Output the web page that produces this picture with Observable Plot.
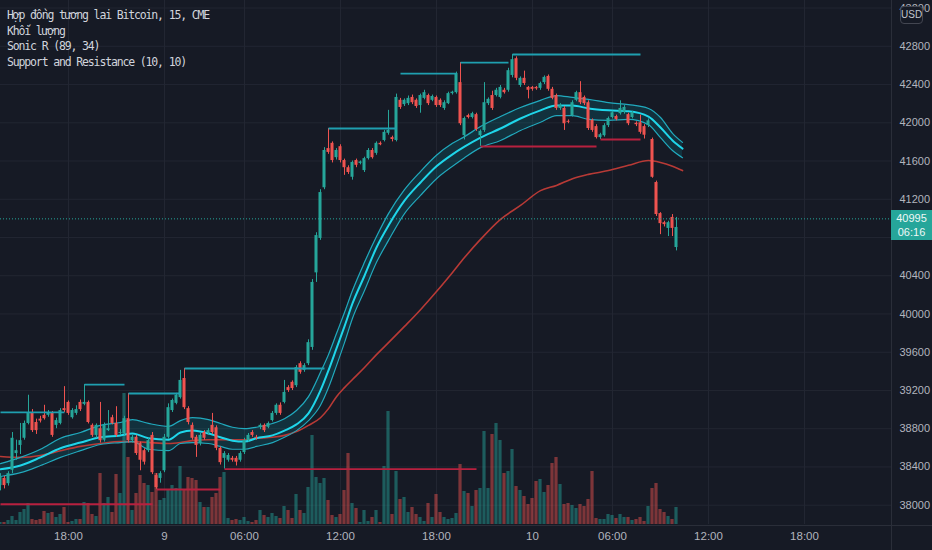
<!DOCTYPE html>
<html><head><meta charset="utf-8">
<script src="https://cdn.jsdelivr.net/npm/d3@7"></script>
<script src="https://cdn.jsdelivr.net/npm/@observablehq/plot@0.6"></script>
<style>
html,body{margin:0;padding:0;background:#161a25;}
#wrap{position:relative;width:932px;height:550px;overflow:hidden;background:#161a25;}
#wrap > svg{position:absolute;left:0;top:0;}
.legend{position:absolute;left:7px;top:8px;font-family:"DejaVu Sans Mono",monospace;font-size:11.5px;letter-spacing:-1.15px;color:#d1d4dc;line-height:15.7px;white-space:pre;}
.usd{position:absolute;left:900px;top:6px;width:21px;height:16px;border:1px solid #434651;border-radius:4px;background:#161a25;color:#c3c6ce;font-family:"Liberation Sans",Arial,sans-serif;font-size:10px;line-height:16px;text-align:center;}
.plabel{position:absolute;left:891px;top:210px;width:41px;height:30px;background:#26a69a;color:#eef8f6;font-family:"Liberation Sans",Arial,sans-serif;font-size:11px;line-height:14px;padding-top:1px;box-sizing:border-box;text-align:center;}
.vsep{position:absolute;left:891px;top:0;width:1px;height:550px;background:#2a2e39;}
.hsep{position:absolute;left:0;top:525px;width:932px;height:1px;background:#2a2e39;}
</style></head><body><div id="wrap"></div>
<script>
// ---- data (bar index 0 = 18:00 on the 8th; 15-minute bars, CME break skipped) ----
const firstIndex = -17;
const opens = [
38205,38280,38225,38365,38540,38625,38700,38855,38970,38865,
38900,38940,38940,38960,38835,38855,39010,39075,38915,38960,
39075,39055,39075,38835,38730,38800,38680,38780,38915,38855,
38750,38750,38905,38675,38710,38645,38570,38570,38730,38310,
38280,38360,38710,38990,39065,39125,39325,39010,38835,38710,
38645,38760,38750,38835,38810,38595,38490,38470,38490,38490,
38470,38550,38675,38760,38710,38815,38835,38815,38885,38960,
39045,39075,39230,39285,39250,39480,39410,39480,39650,40430,
40790,41320,41730,41785,41635,41750,41605,41530,41430,41605,
41575,41500,41625,41710,41680,41785,41815,41890,41845,41815,
42235,42190,42200,42265,42235,42180,42255,42285,42235,42265,
42235,42150,42200,42305,42315,42420,41865,42075,42055,42085,
41865,41920,42200,42285,42285,42265,42340,42340,42495,42670,
42390,42465,42370,42370,42370,42360,42420,42485,42350,42285,
42150,42150,42015,42075,42235,42315,42265,42210,42025,41960,
41845,41865,41970,42055,42065,42095,42110,42085,42055,41995,
42000,41960,41970,41825,41375,41050,40955,40895,41010,40695];
const highs = [
38330,38300,38350,38760,38680,38855,38880,39150,39000,38900,
38930,39045,38990,38980,38910,39010,39240,39090,39010,39040,
39100,39262,39090,38850,38850,39075,38860,38990,38940,39030,
38790,38930,39168,38730,38730,38660,38590,38700,38760,38330,
38350,38740,39060,39110,39170,39410,39430,39030,38860,38730,
38750,38780,38800,38960,38830,38610,38560,38540,38510,38510,
38560,38700,38750,38780,38730,38850,38850,38870,38980,39060,
39070,39305,39250,39300,39460,39500,39480,39730,40360,40850,
41300,41740,41940,41800,41730,41770,41620,41550,41600,41620,
41600,41640,41730,41730,41800,41800,41920,42130,41860,42300,
42255,42250,42280,42290,42250,42300,42340,42300,42290,42280,
42250,42230,42320,42330,42530,42630,42060,42090,42110,42100,
41925,42420,42260,42330,42360,42390,42360,42570,42714,42690,
42480,42540,42380,42380,42380,42425,42490,42500,42370,42300,
42200,42170,42030,42230,42330,42430,42280,42230,42040,41980,
41890,41990,42060,42120,42080,42230,42180,42100,42120,42010,
42080,41980,42040,41840,41390,41060,40970,40970,41040,41010];
const lows = [
38150,38170,38200,38330,38470,38530,38680,38840,38760,38740,
38860,38890,38920,38710,38800,38840,38970,38940,38900,38940,
38980,39040,38850,38710,38700,38650,38660,38770,38840,38710,
38730,38730,38650,38650,38520,38360,38420,38550,38320,38165,
38230,38340,38690,38970,39050,39110,39000,38840,38680,38500,
38620,38680,38730,38740,38570,38420,38378,38450,38450,38410,
38450,38530,38660,38710,38680,38790,38760,38800,38870,38940,
38940,39060,39180,39200,39230,39370,39390,39460,39620,40330,
40770,41300,41670,41580,41610,41580,41450,41460,41400,41530,
41560,41480,41610,41620,41660,41760,41800,41870,41800,41800,
42140,42170,42180,42190,42150,42100,42240,42180,42220,42160,
42160,42130,42190,42290,42300,41970,41820,42040,42040,41910,
41752,41900,42180,42130,42270,42250,42300,42320,42470,42440,
42370,42390,42250,42330,42340,42340,42400,42330,42240,42130,
42130,41920,41990,42060,42220,42190,42180,41920,41900,41830,
41825,41850,41950,42040,42020,42080,42090,41970,42040,41960,
41880,41830,41950,41420,41020,40830,40910,40810,40810,40660];
const closes = [
38290,38205,38330,38700,38570,38675,38855,38960,38780,38780,
38880,38905,38960,38730,38885,38990,38990,38960,38990,39000,
39000,39075,38865,38730,38835,38675,38835,38800,38855,38730,
38760,38905,38675,38710,38540,38470,38450,38675,38340,38185,
38330,38710,39020,39095,39150,39305,39020,38865,38700,38625,
38730,38700,38780,38760,38595,38445,38540,38520,38470,38450,
38540,38675,38730,38730,38700,38835,38780,38855,38960,39045,
38960,39180,39200,39220,39440,39390,39460,39700,40330,40820,
41270,41710,41690,41605,41710,41605,41530,41480,41585,41555,
41590,41625,41710,41635,41785,41770,41900,41920,41825,42265,
42160,42235,42255,42210,42170,42285,42315,42200,42275,42180,
42180,42210,42305,42320,42515,41990,42045,42055,42095,41930,
41910,42210,42245,42150,42340,42370,42315,42545,42660,42465,
42465,42410,42340,42350,42355,42410,42475,42350,42255,42150,
42180,41990,42005,42210,42315,42210,42200,41940,41920,41845,
41875,41970,42045,42105,42035,42150,42160,41990,42105,41980,
41900,41870,42020,41430,41040,40945,40935,40955,40895,40905];
const volumes = [
10,10,20,40,20,60,75,105,25,20,
25,65,55,60,35,50,85,10,15,25,
25,110,105,50,40,255,105,135,60,250,
155,655,335,70,155,245,205,195,160,255,
120,130,170,195,180,290,170,235,230,220,
110,85,85,135,155,235,260,30,20,25,
20,35,15,10,20,70,45,35,55,40,
30,90,70,30,150,70,55,185,445,235,
205,230,120,45,35,50,170,355,105,80,
10,70,15,35,70,10,290,565,50,265,
125,135,60,85,50,35,15,105,35,150,
60,35,25,30,55,300,165,155,90,170,
180,465,180,450,505,420,255,265,375,190,
170,140,100,130,215,225,160,195,305,335,
200,100,105,95,80,100,90,125,265,30,
25,25,50,45,30,50,35,35,20,25,
35,15,90,180,205,75,60,40,25,85];
const lastPrice = 40995;
const countdown = "06:16";

// Sonic R (EMA34 high / close / low, EMA89) at sample bars
const emaIdx = [-17,-12,-7,-2,3,8,13,16,20,25,28,31,35,38,41,44,47,51,54,57,60,63,65,67,69,71,74,77,80,84,88,92,96,99,103,108,113,118,122,126,130,135,140,145,148,151,153.5];
const emaHigh = [38435,38500,38585,38700,38760,38835,38865,38895,38855,38825,38885,38915,38895,38855,38815,38800,38815,38855,38905,38990,39135,39390,39575,39795,40015,40245,40540,40810,41050,41300,41490,41660,41785,41855,41960,42065,42160,42235,42285,42265,42245,42210,42190,42150,42055,41890,41795];
const emaClose = [38375,38415,38500,38595,38655,38710,38730,38750,38700,38685,38760,38780,38750,38710,38675,38665,38700,38730,38780,38845,38960,39200,39410,39640,39870,40110,40400,40695,40925,41185,41375,41545,41670,41750,41845,41940,42045,42130,42180,42180,42150,42130,42120,42065,41950,41815,41730];
const emaLow = [38300,38340,38415,38500,38570,38635,38655,38665,38585,38570,38645,38655,38645,38615,38585,38585,38615,38655,38710,38780,38885,39045,39230,39460,39700,39955,40245,40540,40770,41050,41240,41415,41545,41635,41740,41815,41920,42005,42075,42075,42035,42025,42035,41980,41845,41710,41635];
const ema89 = [38510,38500,38520,38570,38615,38645,38665,38665,38655,38645,38655,38675,38685,38685,38685,38685,38700,38710,38730,38770,38835,38915,39010,39135,39230,39315,39440,39575,39700,39870,40045,40235,40435,40590,40780,40990,41135,41290,41345,41415,41460,41500,41555,41605,41585,41545,41500];

// Support and Resistance (10, 10)
const resStart = [-17, 4, 15, 29, 65, 83, 98, 111];
const resEnd   = [-1, 14, 28, 64, 82, 97, 110, 143];
const resLevel = [38970, 39262, 39168, 39430, 41940, 42515, 42630, 42714];
const supStart = [-17, 22, 39, 103, 133];
const supEnd   = [21, 38, 102, 132, 143];
const supLevel = [38010, 38164, 38378, 41752, 41825];

// axes
const timeTickIdx = [0, 24, 44, 68, 92, 116, 136, 160, 184];
const timeTickLabels = ["18:00", "9", "06:00", "12:00", "18:00", "10", "06:00", "12:00", "18:00"];
const priceTicks = d3.range(38000, 43201, 400);
const hiddenPriceLabel = 40800; // covered by the last-price tag in the original
const legendLines = ["Hợp đồng tương lai Bitcoin, 15, CME", "Khối lượng", "Sonic R (89, 34)", "Support and Resistance (10, 10)"];

// ---- build tables ----
const bars = opens.map((o, k) => ({i: firstIndex + k, o, h: highs[k], l: lows[k], c: closes[k], v: volumes[k], up: closes[k] >= o}));
const emaRows = emaIdx.map((i, k) => ({i, hi: emaHigh[k], mid: emaClose[k], lo: emaLow[k], slow: ema89[k]}));
const resRows = resStart.map((s, k) => ({s, e: resEnd[k], y: resLevel[k]}));
const supRows = supStart.map((s, k) => ({s, e: supEnd[k], y: supLevel[k]}));

const UP = "#26a69a", DOWN = "#ef5350";
const xDomain = [-17, 205.75];
const yDomain = [37798, 43279];
const common = {
  width: 932, height: 550, marginLeft: 0, marginRight: 41, marginTop: 0, marginBottom: 26,
  style: {background: "transparent", fontFamily: "'Liberation Sans', Arial, sans-serif", fontSize: "11px", color: "#b2b5be", overflow: "visible"}
};

// layer 1: grid + axes
const gridPlot = Plot.plot({
  ...common,
  x: {domain: xDomain},
  y: {domain: yDomain},
  marks: [
    Plot.ruleY(priceTicks, {stroke: "#222632", strokeWidth: 1}),
    Plot.ruleX(timeTickIdx, {stroke: "#222632", strokeWidth: 1}),
    Plot.axisX(timeTickIdx, {anchor: "bottom", tickSize: 0, tickPadding: 7, fontSize: 11.5, tickFormat: d => timeTickLabels[timeTickIdx.indexOf(d)], fill: "#b2b5be"}),
    Plot.axisY(priceTicks.filter(d => d !== hiddenPriceLabel), {anchor: "right", tickSize: 0, tickPadding: 8, fontSize: 11, tickFormat: d => String(d), fill: "#b2b5be", textAnchor: "start"})
  ]
});

// layer 2: volume
const volPlot = Plot.plot({
  ...common,
  x: {domain: xDomain, axis: null},
  y: {domain: [0, 2620], axis: null},
  marks: [
    Plot.rect(bars, {x1: d => d.i - 0.4, x2: d => d.i + 0.4, y1: 0, y2: "v", fill: d => d.up ? UP : DOWN, fillOpacity: 0.48, clip: true})
  ]
});

// layer 3: price
const pricePlot = Plot.plot({
  ...common,
  x: {domain: xDomain, axis: null},
  y: {domain: yDomain, axis: null},
  marks: [
    Plot.areaY(emaRows, {x: "i", y1: "lo", y2: "hi", fill: "#00bcd4", fillOpacity: 0.14, curve: "monotone-x", clip: true}),
    Plot.lineY(emaRows, {x: "i", y: "slow", stroke: "#b83a36", strokeWidth: 1.6, curve: "monotone-x", clip: true}),
    Plot.lineY(emaRows, {x: "i", y: "hi", stroke: "#21a9bd", strokeWidth: 1.2, curve: "monotone-x", clip: true}),
    Plot.lineY(emaRows, {x: "i", y: "lo", stroke: "#21a9bd", strokeWidth: 1.2, curve: "monotone-x", clip: true}),
    Plot.lineY(emaRows, {x: "i", y: "mid", stroke: "#1fd6ea", strokeWidth: 2, curve: "monotone-x", clip: true}),
    Plot.ruleX(bars, {x: "i", y1: "l", y2: "h", stroke: d => d.up ? UP : DOWN, strokeWidth: 1, clip: true}),
    Plot.rect(bars, {x1: d => d.i - 0.38, x2: d => d.i + 0.38, y1: "o", y2: "c", fill: d => d.up ? UP : DOWN, clip: true}),
    Plot.link(resRows, {x1: "s", x2: "e", y1: "y", y2: "y", stroke: "#1f9fb0", strokeWidth: 1.8, clip: true}),
    Plot.link(supRows, {x1: "s", x2: "e", y1: "y", y2: "y", stroke: "#b8203f", strokeWidth: 1.8, clip: true}),
    Plot.ruleY([lastPrice], {stroke: UP, strokeWidth: 1, strokeDasharray: "1,2"})
  ]
});

const wrap = document.getElementById("wrap");
wrap.appendChild(gridPlot);
wrap.appendChild(volPlot);
wrap.appendChild(pricePlot);

const addDiv = (cls, html) => { const d = document.createElement("div"); d.className = cls; d.innerHTML = html; wrap.appendChild(d); return d; };
addDiv("vsep", "");
addDiv("hsep", "");
addDiv("legend", legendLines.join("\n"));
addDiv("usd", "USD");
addDiv("plabel", lastPrice + "<br>" + countdown);
</script></body></html>
